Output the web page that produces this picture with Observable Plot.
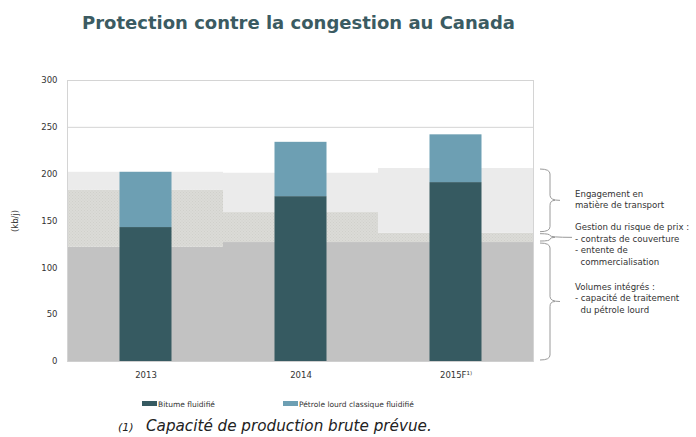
<!DOCTYPE html>
<html>
<head>
<meta charset="utf-8">
<script src="https://cdn.jsdelivr.net/npm/d3@7"></script>
<script src="https://cdn.jsdelivr.net/npm/@observablehq/plot@0.6"></script>
<style>
  body { margin: 0; background: #fff; font-family: "DejaVu Sans", Verdana, sans-serif; }
  #wrap { position: relative; width: 696px; height: 437px; overflow: hidden; }
  #title { position: absolute; left: 82px; top: 12px; font-size: 18px; font-weight: bold; color: #3b5b62; line-height: 22px; white-space: nowrap; }
  #chart { position: absolute; left: 0; top: 45px; }
  #legend { position: absolute; top: 400px; left: 0; font-size: 7.5px; color: #333; }
  .li { position: absolute; white-space: nowrap; line-height: 10px; }
  .sw { display: inline-block; width: 15px; height: 5px; vertical-align: 1px; margin-right: 1px; }
  #foot { position: absolute; top: 417px; left: 0; font-style: italic; color: #222; white-space: nowrap; }
  #foot .n { position: absolute; left: 118px; top: 4px; font-size: 11px; }
  #foot .t { position: absolute; left: 146px; top: 0; font-size: 15.2px; }
</style>
</head>
<body>
<div id="wrap">
  <div id="title">Protection contre la congestion au Canada</div>
  <div id="chart"></div>
  <div id="legend"></div>
  <div id="foot"><span class="n">(1)</span><span class="t">Capacité de production brute prévue.</span></div>
</div>
<script>
// ---- Data ----
const categories = ["2013", "2014", "2015F"];
const categoryLabels = ["2013", "2014", "2015F\u00B9\u207E"];
// Production bars (kb/j)
const bitumeFluidifie = [143, 176, 191];
const petroleLourd = [59, 58, 51];
// Background protection layers (kb/j)
const volumesIntegres = [122, 127, 127];
const gestionRisque = [61, 32, 10];
const engagementTransport = [19, 42, 69];
const seriesNames = ["Bitume fluidifié", "Pétrole lourd classique fluidifié"];
const layerNames = ["Volumes intégrés", "Gestion du risque de prix", "Engagement en matière de transport"];
const annotations = [
  ["Engagement en", "matière de transport"],
  ["Gestion du risque de prix :", "- contrats de couverture", "- entente de", "  commercialisation"],
  ["Volumes intégrés :", "- capacité de traitement", "  du pétrole lourd"]
];
const yTicks = [0, 50, 100, 150, 200, 250, 300];

// ---- Build tables ----
const barColors = ["#365a61", "#6d9fb3"];
const layerFills = ["#c2c2c2", "url(#hatch)", "#ebebeb"];

const layers = [];
categories.forEach((c, i) => {
  let base = 0;
  [volumesIntegres, gestionRisque, engagementTransport].forEach((arr, k) => {
    layers.push({cat: c, layer: layerNames[k], y1: base, y2: base + arr[i], fill: layerFills[k]});
    base += arr[i];
  });
});
const bars = [];
categories.forEach((c, i) => {
  bars.push({cat: c, series: seriesNames[0], y1: 0, y2: bitumeFluidifie[i], fill: barColors[0]});
  bars.push({cat: c, series: seriesNames[1], y1: bitumeFluidifie[i], y2: bitumeFluidifie[i] + petroleLourd[i], fill: barColors[1]});
});

// Braces follow the last category's layers
const last = categories.length - 1;
const braceSpans = (() => {
  const a = volumesIntegres[last], b = a + gestionRisque[last], c = b + engagementTransport[last];
  return [
    {y1: b, y2: c, lines: annotations[0], tip: 10, anchor: "middle", off: -1},
    {y1: a, y2: b, lines: annotations[1], tip: 22, anchor: "top", off: -10},
    {y1: 0, y2: a, lines: annotations[2], tip: 10, anchor: "middle", off: -3.5}
  ];
})();

function braces(index, scales, values, dims) {
  const g = d3.create("svg:g");
  const xr = dims.width - dims.marginRight;
  const x0 = xr + 7, xs = xr + 17, xText = xr + 42;
  const lh = 11.5;
  braceSpans.forEach(s => {
    const top = scales.y(s.y2) + 1, bot = scales.y(s.y1) - 1;
    const h = bot - top, ym = (top + bot) / 2;
    const r = Math.min(5, h / 4);
    const xt = xs + s.tip;
    const p = `M${x0},${top} Q${xs},${top} ${xs},${top + r} L${xs},${ym - r} Q${xs},${ym} ${xt},${ym} M${xs + 5},${ym} Q${xs},${ym} ${xs},${ym + r} L${xs},${bot - r} Q${xs},${bot} ${x0},${bot}`;
    g.append("path").attr("d", p).attr("fill", "none").attr("stroke", "#9a9a9a").attr("stroke-width", 1);
    // annotation text
    const n = s.lines.length;
    const first = s.anchor === "middle" ? ym + s.off - (n - 1) * lh / 2 : ym + s.off;
    const t = g.append("text")
      .attr("font-size", 8.6)
      .attr("fill", "#333")
      .attr("text-anchor", "start")
      .attr("style", "white-space: pre");
    s.lines.forEach((line, k) => {
      t.append("tspan").attr("x", xText).attr("y", first + k * lh).attr("dy", "0.35em").text(line);
    });
  });
  return g.node();
}

const chart = Plot.plot({
  width: 696,
  height: 345,
  marginTop: 35,
  marginBottom: 29,
  marginLeft: 67,
  marginRight: 163,
  style: {fontFamily: "'DejaVu Sans', Verdana, sans-serif", fontSize: "8.5px", color: "#333", background: "transparent"},
  x: {domain: categories, padding: 0, tickFormat: d => categoryLabels[categories.indexOf(d)], tickSize: 0, tickPadding: 10, label: null},
  y: {domain: [0, 300], ticks: yTicks, tickSize: 0, tickPadding: 10, label: "(kb/j)", labelAnchor: "center", labelOffset: 56, labelArrow: "none"},
  marks: [
    Plot.gridY(yTicks, {stroke: "#d4d4d4", strokeOpacity: 1}),
    Plot.rectY(layers, {x: "cat", y1: "y1", y2: "y2", fill: d => d.fill}),
    Plot.barY(bars, {x: "cat", y1: "y1", y2: "y2", fill: d => d.fill, insetLeft: 51.5, insetRight: 51.5}),
    Plot.ruleY([0], {stroke: "#cfcfcf"}),
    Plot.frame({anchor: "left", stroke: "#d4d4d4"}),
    Plot.frame({anchor: "right", stroke: "#d4d4d4"}),
    braces
  ]
});

// hatch pattern definition for the "Gestion du risque" layer
chart.insertAdjacentHTML("afterbegin",
  `<defs><pattern id="hatch" width="3" height="3" patternUnits="userSpaceOnUse">
     <rect width="3" height="3" fill="#dbdbd7"/>
     <rect x="0" y="0" width="1" height="1" fill="#d0d0cb"/>
     <rect x="1.5" y="1.5" width="1" height="1" fill="#d0d0cb"/>
   </pattern></defs>`);
document.getElementById("chart").appendChild(chart);

// Legend
const legend = document.getElementById("legend");
const legendX = [142, 283];
seriesNames.forEach((name, i) => {
  const d = document.createElement("div");
  d.className = "li";
  d.style.left = legendX[i] + "px";
  d.innerHTML = `<span class="sw" style="background:${barColors[i]}"></span>${name}`;
  legend.appendChild(d);
});
</script>
</body>
</html>
